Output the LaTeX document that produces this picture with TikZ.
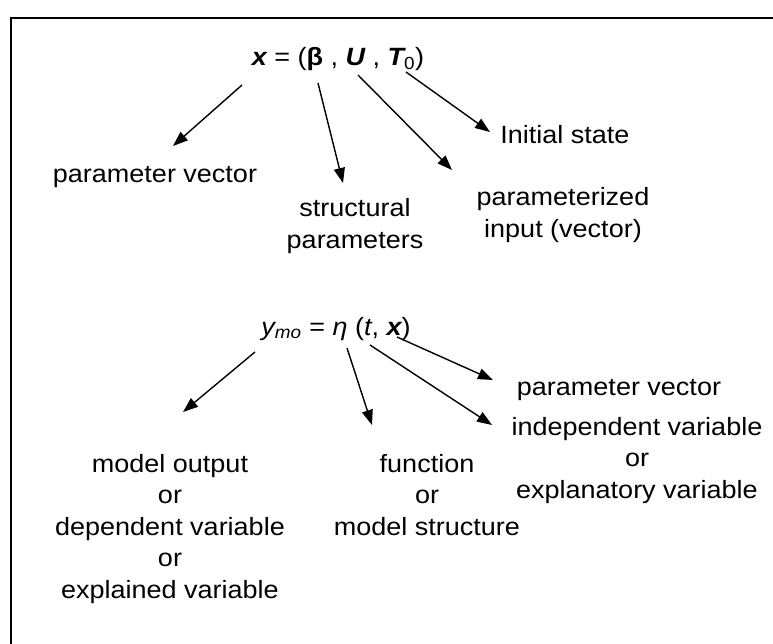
\documentclass[tikz,border=0pt]{standalone}
\usepackage{fontspec}
\setmainfont{Liberation Sans}[FakeStretch=1.08]
\usetikzlibrary{arrows.meta}
\begin{document}
\begin{tikzpicture}[x=1pt,y=-1pt,
  lbl/.style={font=\fontsize{25}{31.5}\selectfont, align=center, inner sep=0pt, anchor=base},
  arr/.style={line width=1.4pt, -{Triangle[length=15pt,width=11pt]}}]
\useasboundingbox (0,0) rectangle (773,644);
\draw[line width=2.2pt] (11,646) -- (11,18) -- (776,18);
% formulas (anchor base = last line baseline)
\node[lbl] (f1) at (338,66) {{\bfseries\itshape x} = ({\bfseries β} , {\bfseries\itshape U} , {\bfseries\itshape T}\textsubscript{0})};
\node[lbl] (f2) at (336,335) {{\itshape y}\textsubscript{\itshape mo} = {\itshape η} ({\itshape t}, {\bfseries\itshape x})};
% labels
\node[lbl] (pv1) at (155,183) {parameter vector};
\node[lbl] (st) at (355,248) {structural\\parameters};
\node[lbl] (pi) at (563,237) {parameterized\\input (vector)};
\node[lbl] (is) at (565,144) {Initial state};
\node[lbl] (pv2) at (619,395) {parameter vector};
\node[lbl] (iv) at (637,498) {independent variable\\or\\explanatory variable};
\node[lbl] (mo) at (170,598) {model output\\or\\dependent variable\\or\\explained variable};
\node[lbl] (fn) at (427,535) {function\\or\\model structure};
% arrow ends
\coordinate (a1s) at (242,85);  \coordinate (a1e) at (173,146);
\coordinate (a2s) at (318,83);  \coordinate (a2e) at (343,183);
\coordinate (a3s) at (358,75);  \coordinate (a3e) at (452,170);
\coordinate (a4s) at (406,72);  \coordinate (a4e) at (490,132);
\coordinate (b1s) at (255,352); \coordinate (b1e) at (183,412);
\coordinate (b2s) at (347,348); \coordinate (b2e) at (372,425);
\coordinate (b3s) at (370,345); \coordinate (b3e) at (492,425);
\coordinate (b4s) at (397,337); \coordinate (b4e) at (493,380);
\draw[arr] (a1s) -- (a1e);
\draw[arr] (a2s) -- (a2e);
\draw[arr] (a3s) -- (a3e);
\draw[arr] (a4s) -- (a4e);
\draw[arr] (b1s) -- (b1e);
\draw[arr] (b2s) -- (b2e);
\draw[arr] (b3s) -- (b3e);
\draw[arr] (b4s) -- (b4e);
\end{tikzpicture}
\end{document}
